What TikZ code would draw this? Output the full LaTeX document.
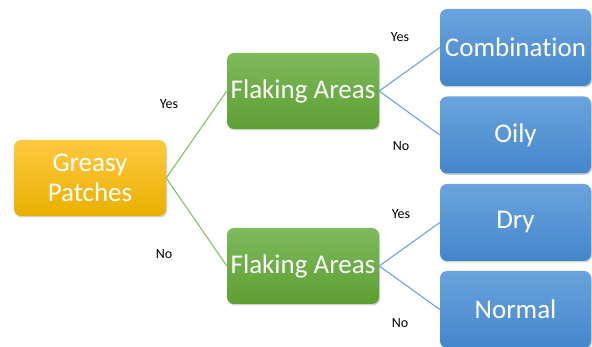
\documentclass[tikz,border=0pt]{standalone}
\usepackage{fontspec}
\setmainfont{Carlito}[Ligatures={NoCommon}]
\usetikzlibrary{shadows}
\definecolor{orTop}{HTML}{FFC940}
\definecolor{orBot}{HTML}{E9B000}
\definecolor{grTop}{HTML}{7DBA5C}
\definecolor{grBot}{HTML}{5E9F33}
\definecolor{blTop}{HTML}{6AA3DE}
\definecolor{blBot}{HTML}{4486CC}
\definecolor{grLine}{HTML}{86BF64}
\definecolor{blLine}{HTML}{6AA3DE}
\tikzset{
  box/.style={rounded corners=7pt, text=white, align=center, inner sep=0pt,
    font=\fontsize{27}{30}\selectfont,
    drop shadow={opacity=0.35, shadow xshift=1pt, shadow yshift=-1.5pt}},
  obox/.style={box, top color=orTop, bottom color=orBot, minimum width=152pt, minimum height=76pt},
  gbox/.style={box, top color=grTop, bottom color=grBot, minimum width=152pt, minimum height=76pt},
  bbox/.style={box, top color=blTop, bottom color=blBot, minimum width=151pt, minimum height=77pt},
  lbl/.style={font=\fontsize{14}{16}\selectfont, text=black},
  gline/.style={draw=grLine, line width=1.1pt},
  bline/.style={draw=blLine, line width=1.1pt}
}
\begin{document}
\begin{tikzpicture}[x=1pt,y=-1pt]
\useasboundingbox (0,0) rectangle (592,347);
\node[obox] (g) at (90,178) {Greasy\\Patches};
\node[gbox] (f1) at (303,91) {Flaking Areas};
\node[gbox] (f2) at (303,266) {Flaking Areas};
\node[bbox] (c) at (515.5,47.5) {Combination};
\node[bbox] (o) at (515.5,135) {Oily};
\node[bbox] (d) at (515.5,222.5) {Dry};
\node[bbox] (n) at (515.5,309.5) {Normal};
\draw[gline] (g.east) -- (f1.west);
\draw[gline] (g.east) -- (f2.west);
\draw[bline] (f1.east) -- (c.west);
\draw[bline] (f1.east) -- (o.west);
\draw[bline] (f2.east) -- (d.west);
\draw[bline] (f2.east) -- (n.west);
\node[lbl] (y1) at (169,104) {Yes};
\node[lbl] (n1) at (164,254) {No};
\node[lbl] (y2) at (400,37) {Yes};
\node[lbl] (n2) at (401,146) {No};
\node[lbl] (y3) at (401,214) {Yes};
\node[lbl] (n3) at (400,323) {No};
\end{tikzpicture}
\end{document}
